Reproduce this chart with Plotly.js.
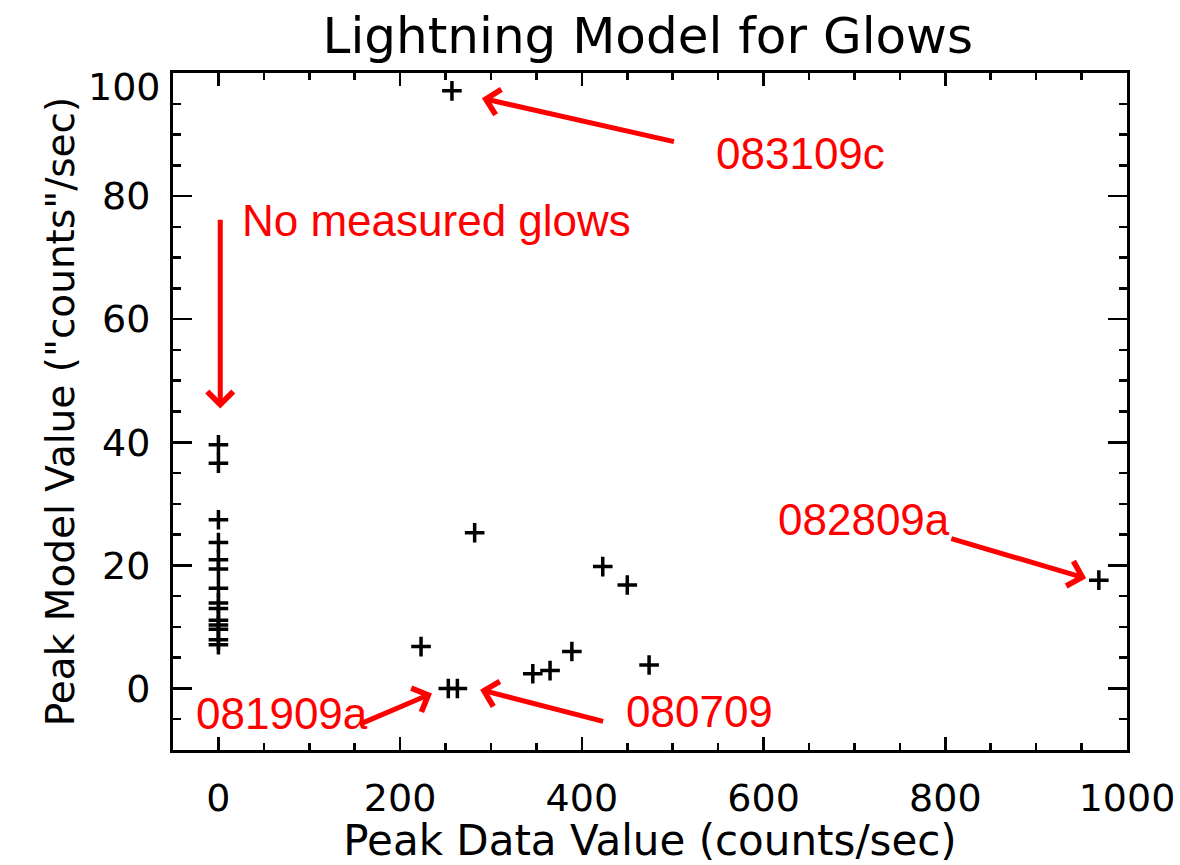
<!DOCTYPE html>
<html>
<head>
<meta charset="utf-8">
<script src="https://cdn.plot.ly/plotly-3.0.1.min.js"></script>
<style>html,body{margin:0;padding:0;background:#fff;}#chart{width:1180px;height:865px;}</style>
</head>
<body>
<div id="chart"></div>
<script>
// Events with no measured glow (peak data value 0)
const noGlowX = [0, 0, 0, 0, 0, 0, 0, 0, 0, 0, 0, 0, 0, 0];
const noGlowY = [39.6, 36.6, 27.4, 23.7, 20.9, 19.4, 16.3, 13.9, 13.0, 11.1, 10.3, 9.6, 7.9, 7.1];
// Events with measured glows
const glowX = [257, 282, 423, 450, 223, 389, 474, 346, 365, 253, 263, 969];
const glowY = [97.1, 25.3, 19.8, 16.8, 6.8, 6.0, 3.8, 2.4, 2.9, 0.0, 0.0, 17.6];

// Annotation labels and arrows
const labelText = ["083109c", "No measured glows", "082809a", "081909a", "080709"];
const labelX = [641, 240, 710, 70, 529];
const labelY = [87.0, 76.1, 27.4, -4.1, -3.8];
const arrowTailX = [503, 2, 805, 154, 425];
const arrowTailY = [88.8, 76.4, 24.4, -5.9, -5.4];
const arrowHeadX = [290, 2, 955, 235, 288];
const arrowHeadY = [95.9, 45.5, 17.9, -0.8, -0.2];

const xTickVals = [0, 200, 400, 600, 800, 1000];
const yTickVals = [0, 20, 40, 60, 80];

const idlFont = "DejaVu Sans, Liberation Sans, Arial, sans-serif";
const redFont = "Liberation Sans, Arial, Helvetica, sans-serif";
const red = "#ff0000";

const markerStyle = {symbol: "cross-thin-open", size: 14, color: "#000", line: {width: 3.5, color: "#000"}};

const traces = [
  {x: noGlowX, y: noGlowY, type: "scatter", mode: "markers", marker: markerStyle, hoverinfo: "x+y"},
  {x: glowX, y: glowY, type: "scatter", mode: "markers", marker: markerStyle, hoverinfo: "x+y"}
];

const annotations = [];
for (let i = 0; i < labelText.length; i++) {
  annotations.push({
    x: arrowHeadX[i], y: arrowHeadY[i], xref: "x", yref: "y",
    ax: arrowTailX[i], ay: arrowTailY[i], axref: "x", ayref: "y",
    text: "", showarrow: true, arrowhead: 4, arrowsize: 1, arrowwidth: 5, arrowcolor: red
  });
  annotations.push({
    x: labelX[i], y: labelY[i], xref: "x", yref: "y", text: labelText[i], showarrow: false,
    font: {family: redFont, size: 44, color: red}, xanchor: "center", yanchor: "middle"
  });
}
// "100" label is drawn slightly below the top of the frame as in the original
annotations.push({
  x: 0, xref: "paper", y: 100, yref: "y", text: "100", showarrow: false,
  xanchor: "right", yanchor: "middle", xshift: -10, yshift: -14,
  font: {family: idlFont, size: 38, color: "#000"}
});

const axisCommon = {
  showgrid: false, zeroline: false, showline: true, linecolor: "#000", linewidth: 3,
  mirror: "allticks", ticks: "inside", tickcolor: "#000", tickwidth: 2.5
};

const layout = {
  width: 1180, height: 865,
  margin: {l: 173, r: 53, t: 73, b: 115},
  paper_bgcolor: "#fff", plot_bgcolor: "#fff",
  showlegend: false,
  title: {text: "Lightning Model for Glows", font: {family: idlFont, size: 50, color: "#000"},
          x: 0.549, xanchor: "center", y: 1 - 35/865, yanchor: "middle", yref: "container"},
  xaxis: Object.assign({}, axisCommon, {
    range: [-50, 1000], tickvals: xTickVals, ticklen: 13,
    minor: {dtick: 50, tick0: 0, ticks: "inside", ticklen: 7, tickwidth: 2.5, tickcolor: "#000", showgrid: false},
    tickfont: {family: idlFont, size: 38, color: "#000"}, ticklabelstandoff: 12,
    title: {text: "Peak Data Value (counts/sec)", font: {family: idlFont, size: 42, color: "#000"}, standoff: 14}
  }),
  yaxis: Object.assign({}, axisCommon, {
    range: [-10, 100], tickvals: yTickVals, ticklen: 19,
    minor: {dtick: 5, tick0: 0, ticks: "inside", ticklen: 8, tickwidth: 2.5, tickcolor: "#000", showgrid: false},
    tickfont: {family: idlFont, size: 38, color: "#000"}, ticklabelstandoff: 12,
    title: {text: "Peak Model Value (\"counts\"/sec)", font: {family: idlFont, size: 39, color: "#000"}, standoff: 16}
  }),
  annotations: annotations
};

Plotly.newPlot("chart", traces, layout, {staticPlot: true, displayModeBar: false});
</script>
</body>
</html>
